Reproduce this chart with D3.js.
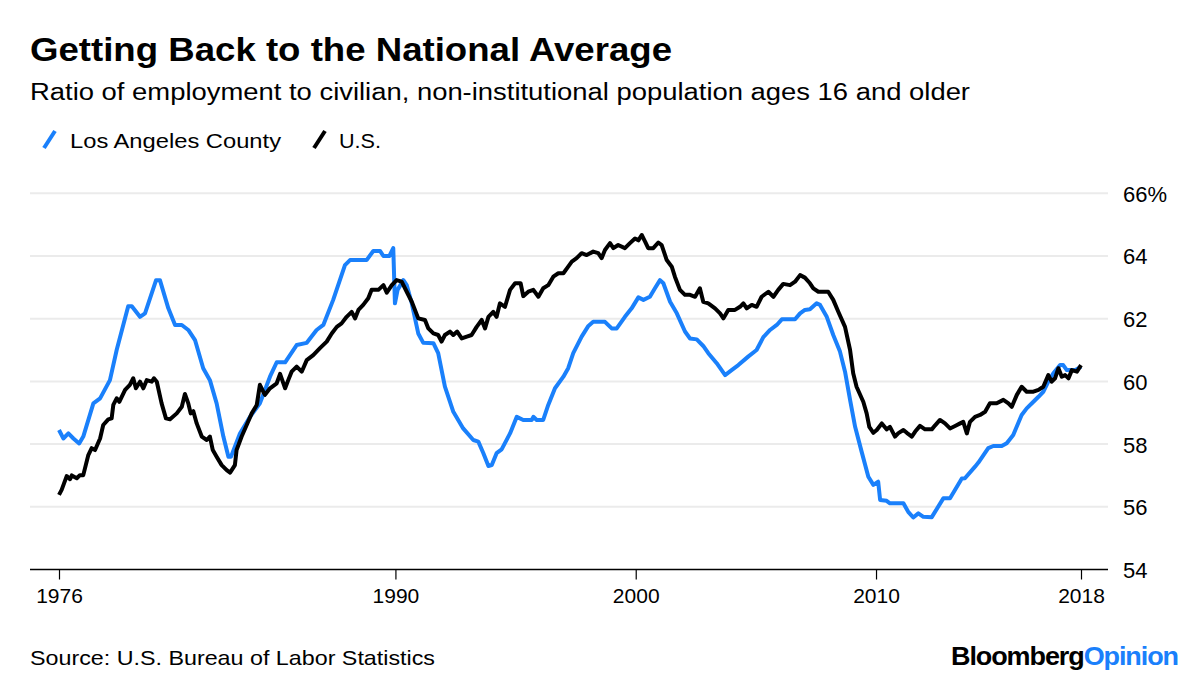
<!DOCTYPE html>
<html><head><meta charset="utf-8">
<script src="https://cdn.jsdelivr.net/npm/d3@7"></script>
<style>body{margin:0;background:#fff;} svg{display:block;font-family:"Liberation Sans",Arial,sans-serif;}</style>
</head><body><svg id="c" width="1200" height="684"></svg>
<script>
// ---- Data ----
const seriesNames = ["Los Angeles County", "U.S."];

const laYears = [1976.0,1976.18,1976.39,1976.6,1976.84,1977.01,1977.43,1977.71,1978.12,1978.4,1978.88,1979.03,1979.37,1979.58,1980.04,1980.2,1980.55,1980.83,1981.11,1981.38,1981.66,1982.0,1982.28,1982.56,1982.84,1983.05,1983.16,1983.53,1983.95,1984.36,1984.78,1985.06,1985.41,1985.89,1986.31,1986.72,1987.0,1987.41,1987.9,1988.11,1988.8,1989.08,1989.36,1989.5,1989.75,1989.91,1989.98,1990.09,1990.33,1990.47,1990.68,1990.95,1991.16,1991.58,1991.78,1992.06,1992.41,1992.82,1993.24,1993.45,1993.66,1993.87,1994.01,1994.21,1994.42,1994.77,1995.05,1995.32,1995.67,1995.74,1995.88,1996.15,1996.36,1996.64,1996.99,1997.19,1997.4,1997.75,1998.03,1998.23,1998.72,1999.0,1999.21,1999.55,1999.83,2000.11,2000.32,2000.59,2000.8,2001.01,2001.15,2001.43,2001.71,2002.05,2002.26,2002.54,2002.81,2003.02,2003.37,2003.72,2003.99,2004.27,2004.68,2005.03,2005.31,2005.59,2005.87,2006.08,2006.63,2006.84,2007.04,2007.25,2007.53,2007.67,2007.95,2008.22,2008.5,2008.71,2008.92,2009.13,2009.4,2009.68,2009.89,2010.09,2010.17,2010.44,2010.58,2011.14,2011.34,2011.55,2011.76,2011.97,2012.32,2012.8,2013.08,2013.57,2013.7,2014.12,2014.26,2014.67,2014.88,2015.23,2015.44,2015.71,2016.06,2016.27,2016.55,2016.76,2016.96,2017.17,2017.38,2017.66,2017.79,2017.94,2018.28,2018.53];
const laValues = [58.45,58.18,58.34,58.18,58.02,58.24,59.3,59.46,60.04,61.0,62.4,62.4,62.06,62.17,63.23,63.23,62.33,61.8,61.8,61.64,61.32,60.42,60.04,59.3,58.24,57.6,57.6,58.34,58.87,59.3,60.15,60.61,60.61,61.16,61.23,61.64,61.8,62.6,63.71,63.87,63.87,64.16,64.16,64.0,64.0,64.25,62.49,62.92,63.23,63.07,62.49,61.53,61.23,61.22,60.9,59.83,59.03,58.5,58.13,58.08,57.71,57.3,57.33,57.71,57.83,58.34,58.87,58.77,58.77,58.87,58.77,58.77,59.25,59.78,60.15,60.42,60.9,61.43,61.77,61.9,61.9,61.69,61.69,62.06,62.33,62.68,62.6,62.7,62.97,63.23,63.13,62.54,62.17,61.59,61.37,61.34,61.13,60.9,60.58,60.2,60.36,60.52,60.79,61.0,61.41,61.64,61.8,61.98,61.98,62.17,62.28,62.3,62.49,62.44,62.06,61.48,60.95,60.31,59.41,58.55,57.76,56.96,56.7,56.8,56.22,56.19,56.11,56.11,55.84,55.66,55.79,55.68,55.67,56.27,56.27,56.9,56.91,57.28,57.41,57.87,57.94,57.94,58.03,58.29,58.93,59.14,59.35,59.51,59.67,59.99,60.26,60.52,60.52,60.36,60.36,60.47];

const usYears = [1976.0,1976.11,1976.32,1976.46,1976.53,1976.74,1976.87,1977.01,1977.22,1977.36,1977.5,1977.71,1977.84,1978.05,1978.19,1978.26,1978.4,1978.51,1978.75,1978.95,1979.09,1979.2,1979.37,1979.51,1979.65,1979.86,1979.95,1980.07,1980.27,1980.45,1980.62,1980.9,1981.11,1981.24,1981.38,1981.48,1981.59,1981.73,1981.94,1982.15,1982.28,1982.4,1982.56,1982.77,1982.98,1983.12,1983.32,1983.39,1983.6,1983.81,1984.02,1984.23,1984.36,1984.5,1984.57,1984.78,1985.06,1985.2,1985.41,1985.54,1985.68,1985.89,1986.1,1986.31,1986.58,1986.86,1987.14,1987.35,1987.56,1987.76,1987.97,1988.18,1988.32,1988.46,1988.66,1988.87,1989.01,1989.29,1989.5,1989.64,1989.85,1990.05,1990.26,1990.47,1990.68,1990.95,1991.23,1991.37,1991.58,1991.78,1991.92,1992.06,1992.27,1992.41,1992.57,1992.76,1992.97,1993.17,1993.38,1993.59,1993.73,1993.87,1994.07,1994.21,1994.35,1994.56,1994.77,1994.98,1995.21,1995.32,1995.53,1995.74,1995.95,1996.15,1996.36,1996.57,1996.78,1996.99,1997.19,1997.34,1997.54,1997.75,1997.96,1998.23,1998.44,1998.58,1998.72,1998.93,1999.07,1999.27,1999.55,1999.76,1999.97,2000.11,2000.25,2000.39,2000.52,2000.73,2000.94,2001.08,2001.29,2001.5,2001.63,2001.84,2002.05,2002.26,2002.47,2002.67,2002.81,2003.02,2003.3,2003.51,2003.65,2003.85,2004.13,2004.34,2004.48,2004.62,2004.83,2005.03,2005.24,2005.52,2005.73,2005.93,2006.14,2006.42,2006.63,2006.84,2007.04,2007.25,2007.39,2007.6,2007.81,2008.01,2008.22,2008.43,2008.71,2008.92,2009.05,2009.19,2009.47,2009.61,2009.72,2009.89,2010.03,2010.24,2010.44,2010.58,2010.79,2010.93,2011.14,2011.28,2011.49,2011.63,2011.83,2012.04,2012.32,2012.46,2012.66,2012.87,2013.08,2013.29,2013.5,2013.63,2013.78,2013.91,2014.12,2014.33,2014.54,2014.74,2015.02,2015.3,2015.51,2015.65,2015.86,2016.06,2016.27,2016.55,2016.76,2016.96,2017.17,2017.31,2017.45,2017.59,2017.73,2017.87,2018.01,2018.15,2018.36,2018.53];
const usValues = [56.38,56.54,56.98,56.88,57.0,56.91,57.01,57.01,57.65,57.87,57.81,58.18,58.61,58.79,58.82,59.25,59.46,59.35,59.73,59.89,60.1,59.78,59.99,59.78,60.04,59.99,60.1,59.99,59.3,58.82,58.79,58.98,59.19,59.6,59.3,58.98,59.05,58.66,58.24,58.13,58.24,57.81,57.6,57.33,57.17,57.09,57.33,57.81,58.24,58.61,58.98,59.25,59.89,59.67,59.57,59.78,59.94,60.24,59.78,60.04,60.31,60.47,60.31,60.68,60.84,61.06,61.27,61.53,61.74,61.85,62.06,62.22,62.01,62.28,62.44,62.65,62.92,62.92,63.07,62.83,63.07,63.23,63.18,62.86,62.54,62.01,61.96,61.69,61.53,61.48,61.27,61.48,61.59,61.48,61.59,61.37,61.43,61.48,61.74,61.96,61.69,62.06,62.22,62.06,62.49,62.38,62.92,63.13,63.13,62.72,62.86,62.92,62.7,62.97,63.07,63.34,63.45,63.45,63.66,63.82,63.93,64.09,64.03,64.14,64.09,63.93,64.19,64.41,64.25,64.35,64.25,64.41,64.56,64.5,64.67,64.46,64.25,64.25,64.43,64.35,63.87,63.66,63.34,62.92,62.76,62.76,62.7,62.97,62.54,62.49,62.33,62.17,62.01,62.28,62.28,62.38,62.49,62.33,62.44,62.38,62.7,62.86,62.7,62.92,63.11,63.07,63.18,63.39,63.31,63.13,62.97,62.86,62.86,62.86,62.6,62.22,61.74,61.0,60.26,59.83,59.35,58.98,58.55,58.36,58.45,58.66,58.47,58.55,58.24,58.35,58.45,58.36,58.24,58.4,58.58,58.47,58.47,58.6,58.77,58.66,58.5,58.58,58.66,58.71,58.34,58.71,58.87,58.93,59.03,59.3,59.3,59.41,59.3,59.19,59.57,59.83,59.67,59.67,59.73,59.83,60.2,59.99,60.1,60.42,60.15,60.2,60.1,60.36,60.31,60.52];

const yTicks = [54, 56, 58, 60, 62, 64, 66];
const xTickValues = [1976, 1990, 2000, 2010, 2018.53];
const xTickLabels = ["1976", "1990", "2000", "2010", "2018"];

// ---- Drawing ----
const svg = d3.select("#c");
const BLUE = "#1a80fb";
const FONT = "Liberation Sans, Arial, sans-serif";

const x = d3.scaleLinear().domain([1976, 2018.53]).range([59, 1081]);
const y = d3.scaleLinear().domain([54, 66]).range([569.5, 193.3]);

function fitText(sel, width) {
  sel.attr("textLength", width).attr("lengthAdjust", "spacingAndGlyphs");
}

// Title, subtitle
svg.append("text").attr("x", 30).attr("y", 61).attr("font-size", 34).attr("font-weight", "bold")
  .attr("fill", "#000").text("Getting Back to the National Average").call(fitText, 642);
svg.append("text").attr("x", 30).attr("y", 100).attr("font-size", 23).attr("fill", "#000")
  .text("Ratio of employment to civilian, non-institutional population ages 16 and older").call(fitText, 940);

// Legend
const legend = [
  {name: seriesNames[0], color: BLUE, x: 44, tx: 70, w: 211},
  {name: seriesNames[1], color: "#000", x: 314, tx: 339, w: 42}
];
legend.forEach(l => {
  svg.append("line").attr("x1", l.x).attr("y1", 148).attr("x2", l.x + 11).attr("y2", 131)
    .attr("stroke", l.color).attr("stroke-width", 4);
  svg.append("text").attr("x", l.tx).attr("y", 148).attr("font-size", 21).attr("fill", "#000")
    .text(l.name).call(fitText, l.w);
});

// Gridlines
svg.append("g").selectAll("line").data(yTicks.filter(d => d > 54)).join("line")
  .attr("x1", 30).attr("x2", 1108).attr("y1", d => y(d)).attr("y2", d => y(d))
  .attr("stroke", "#ebebeb").attr("stroke-width", 2);

// Y axis labels (right)
const yAxis = d3.axisRight(y).tickValues(yTicks).tickSize(0).tickPadding(0)
  .tickFormat(d => d === 66 ? d + "%" : d);
const gy = svg.append("g").attr("transform", "translate(1123,0)").call(yAxis);
gy.select(".domain").remove();
gy.selectAll("text").attr("font-size", 22).attr("font-family", FONT)
  .attr("fill", "#000").attr("dy", "0.36em");

// X axis
svg.append("line").attr("x1", 30).attr("x2", 1108).attr("y1", 569.5).attr("y2", 569.5)
  .attr("stroke", "#000").attr("stroke-width", 1.5);
const xAxis = d3.axisBottom(x).tickValues(xTickValues).tickSize(10).tickPadding(9)
  .tickFormat((d, i) => xTickLabels[i]);
const gx = svg.append("g").attr("transform", "translate(0,569.5)").call(xAxis);
gx.select(".domain").remove();
gx.selectAll(".tick line").attr("stroke", "#000").attr("stroke-width", 1.2);
gx.selectAll("text").attr("font-size", 21).attr("font-family", FONT)
  .attr("fill", "#000");

// Lines
const line = d3.line().x(d => x(d[0])).y(d => y(d[1]));
const laData = laYears.map((yr, i) => [yr, laValues[i]]);
const usData = usYears.map((yr, i) => [yr, usValues[i]]);
svg.append("path").datum(laData).attr("d", line).attr("fill", "none")
  .attr("stroke", BLUE).attr("stroke-width", 4).attr("stroke-linejoin", "round");
svg.append("path").datum(usData).attr("d", line).attr("fill", "none")
  .attr("stroke", "#000").attr("stroke-width", 4).attr("stroke-linejoin", "round");

// Footer
svg.append("text").attr("x", 30).attr("y", 665).attr("font-size", 21).attr("fill", "#000")
  .text("Source: U.S. Bureau of Labor Statistics").call(fitText, 405);
const logo = svg.append("text").attr("x", 951).attr("y", 665)
  .attr("font-size", 25).attr("font-weight", "bold").attr("letter-spacing", -1)
  .attr("textLength", 227).attr("lengthAdjust", "spacingAndGlyphs");
logo.append("tspan").attr("fill", "#000").text("Bloomberg");
logo.append("tspan").attr("fill", BLUE).text("Opinion");
</script>
</body></html>
